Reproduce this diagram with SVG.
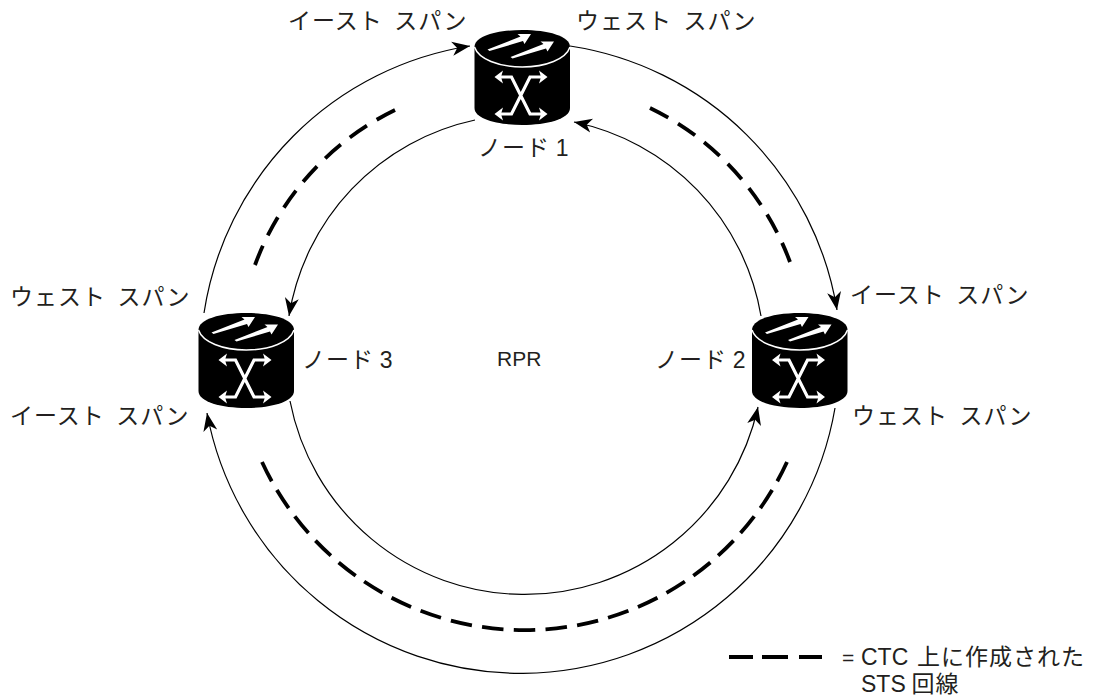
<svg xmlns="http://www.w3.org/2000/svg" width="1097" height="695" viewBox="0 0 1097 695">
<style>
text{font-family:"Liberation Sans","Noto Sans CJK JP",sans-serif;font-size:21px;fill:#231f20}
.j{font-size:23px;letter-spacing:1px;word-spacing:4px}
.d{font-size:23px}
.wire{fill:none;stroke:#000;stroke-width:1.2}
.dash{fill:none;stroke:#000;stroke-width:3.8;stroke-dasharray:20 11}
.w{fill:none;stroke:#fff;stroke-width:3.2}
</style>
<defs>
<marker id="ah" markerUnits="userSpaceOnUse" markerWidth="24" markerHeight="20" refX="18" refY="8" orient="auto"><path d="M0 1L18 8L0 15L5 8Z" fill="#000"/></marker>
<g id="router">
<path d="M0 17C0 6 22 0 47.750 0S95.500 6 95.500 17V78C95.500 89 72 95 47.750 95S0 89 0 78Z" fill="#000"/>
<path d="M0 17C4 29 24 37 47.750 37S91.500 29 95.500 17" class="w" style="stroke-width:1.500"/>
<path d="M13 19.500L46 6.500L43 4L56.500 4L50 14L48.500 11L15 21Z" fill="#fff"/>
<path d="M36 27L69 14L66 11.500L79.500 11.500L73 21.500L71.500 18.500L38 28.500Z" fill="#fff"/>
<path d="M24 47H37L55.500 84H68M68 47H55.500L37 84H24" class="w"/>
<path d="M20 47L28.500 40.500L26.500 47L28.500 53.500ZM73 47L64.500 40.500L66.500 47L64.500 53.500ZM20 84L28.500 77.500L26.500 84L28.500 90.500ZM73 84L64.500 77.500L66.500 84L64.500 90.500Z" fill="#fff"/>
</g>
</defs>
<g id="connectors">
<path class="wire" marker-end="url(#ah)" d="M204 313A319 319 0 0 1 470 46"/>
<path class="wire" marker-end="url(#ah)" d="M570 46A319 319 0 0 1 837 310"/>
<path class="wire" marker-end="url(#ah)" d="M835 408A319 319 0 0 1 207 413"/>
<path class="wire" marker-end="url(#ah)" d="M475 120A239 239 0 0 0 289 316"/>
<path class="wire" marker-end="url(#ah)" d="M761 316A239 239 0 0 0 574 122"/>
<path class="wire" marker-end="url(#ah)" d="M290 401A239 239 0 0 0 758 407"/>
<path class="dash" pathLength="206" d="M395 110A279 279 0 0 0 255 265"/>
<path class="dash" pathLength="206" d="M650 108A279 279 0 0 1 790 262"/>
<path class="dash" pathLength="641" style="stroke-dasharray:21 10" d="M262 462A289 289 0 0 0 787 462"/>
<path d="M729 657H753M762 657H788M799 657H822" style="fill:none;stroke:#000;stroke-width:3.800"/>
</g>
<g id="node1"><use href="#router" x="474.500" y="30"/><text x="478" y="156"><tspan class="j">ノード</tspan> <tspan class="d">1</tspan></text></g>
<g id="node2"><use href="#router" x="752" y="313"/><text x="655" y="368"><tspan class="j">ノード</tspan> <tspan class="d">2</tspan></text></g>
<g id="node3"><use href="#router" x="198.500" y="313"/><text x="302" y="368"><tspan class="j">ノード</tspan> <tspan class="d">3</tspan></text></g>
<g id="labels">
<text class="j" x="288" y="29">イースト スパン</text>
<text class="j" x="576" y="29">ウェスト スパン</text>
<text class="j" x="850" y="303">イースト スパン</text>
<text class="j" x="852" y="424">ウェスト スパン</text>
<text class="j" x="10" y="305">ウェスト スパン</text>
<text class="j" x="10" y="424">イースト スパン</text>
<text x="497" y="366">RPR</text>
<text x="842" y="665">= <tspan class="d" x="861">CTC</tspan> <tspan class="j" x="917">上に作成された</tspan></text>
<text x="861" y="692"><tspan class="d">STS</tspan> <tspan class="j">回線</tspan></text>
</g>
</svg>
